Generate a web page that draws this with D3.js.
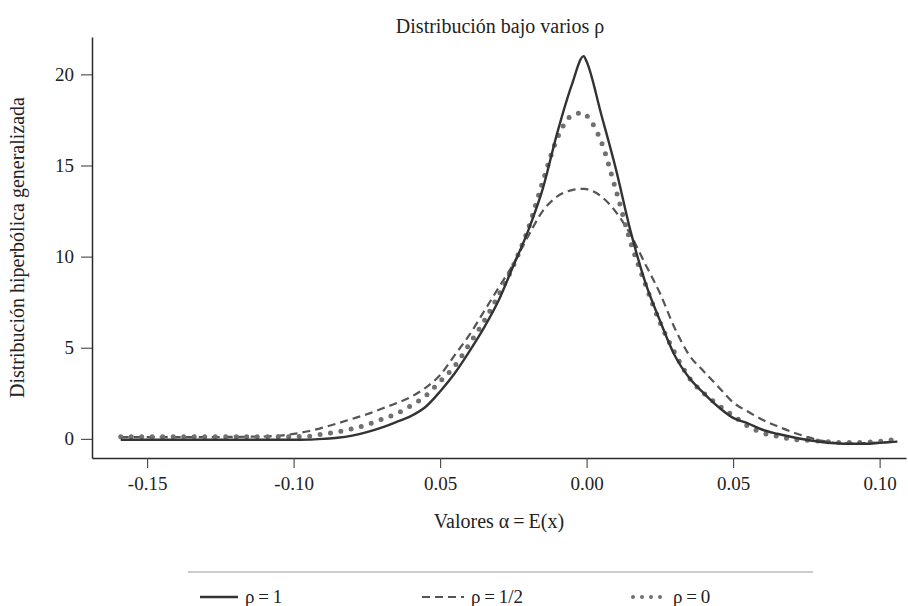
<!DOCTYPE html>
<html>
<head>
<meta charset="utf-8">
<script src="https://cdn.jsdelivr.net/npm/d3@7"></script>
<style>
  html, body { margin: 0; padding: 0; background: #fff; }
  svg text { font-family: "Liberation Serif", "DejaVu Serif", serif; fill: #222; }
</style>
</head>
<body>
<svg id="chart" width="908" height="606"></svg>
<script>
// Evaluation grid (alpha values) shared by the three densities
const alphaGrid = [-0.159, -0.15, -0.14, -0.13, -0.12, -0.11, -0.10, -0.095, -0.09, -0.085,
  -0.08, -0.075, -0.07, -0.065, -0.06, -0.055, -0.05, -0.045, -0.04, -0.035,
  -0.03, -0.025, -0.02, -0.015, -0.01, -0.005, -0.001, 0.0, 0.005, 0.01,
  0.015, 0.02, 0.025, 0.03, 0.035, 0.04, 0.045, 0.05, 0.055, 0.06,
  0.065, 0.07, 0.075, 0.08, 0.085, 0.09, 0.095, 0.10, 0.106];

// Generalized hyperbolic density, rho = 1
const densRho1 = [-0.05, -0.05, -0.05, -0.05, -0.05, -0.05, -0.05, -0.04, 0.0, 0.06,
  0.18, 0.37, 0.62, 0.92, 1.25, 1.75, 2.6, 3.6, 4.8, 6.1,
  7.6, 9.5, 11.4, 13.7, 16.8, 19.45, 21.0, 20.7, 17.8, 14.8,
  11.4, 8.6, 6.5, 4.6, 3.35, 2.5, 1.75, 1.15, 0.85, 0.5,
  0.28, 0.1, -0.05, -0.17, -0.24, -0.27, -0.27, -0.22, -0.15];

// rho = 1/2
const densRhoHalf = [0.1, 0.1, 0.1, 0.1, 0.11, 0.13, 0.27, 0.42, 0.62, 0.85,
  1.1, 1.35, 1.65, 1.95, 2.3, 2.8, 3.5, 4.6, 5.7, 7.0,
  8.3, 9.6, 11.1, 12.5, 13.3, 13.65, 13.72, 13.7, 13.3, 12.45,
  11.2, 9.6, 8.0, 6.1, 4.6, 3.7, 2.85, 2.0, 1.5, 1.05,
  0.7, 0.38, 0.12, -0.1, -0.22, -0.25, -0.23, -0.2, -0.15];

// rho = 0
const densRho0 = [0.12, 0.12, 0.12, 0.12, 0.12, 0.12, 0.12, 0.14, 0.26, 0.38,
  0.55, 0.77, 1.07, 1.37, 1.82, 2.35, 3.15, 4.0, 5.2, 6.45,
  7.9, 9.5, 11.5, 14.1, 16.5, 17.75, 17.9, 17.75, 16.3, 13.65,
  10.8, 8.5, 6.4, 4.75, 3.35, 2.5, 1.85, 1.28, 0.7, 0.33,
  0.15, -0.02, -0.07, -0.13, -0.19, -0.2, -0.19, -0.14, -0.02];

const xTickValues = [-0.15, -0.10, -0.05, 0.00, 0.05, 0.10];
const xTickLabels = ["-0.15", "-0.10", "0.05", "0.00", "0.05", "0.10"];
const yTickValues = [0, 5, 10, 15, 20];

const seriesNames = ["ρ\u2009=\u20091", "ρ\u2009=\u20091/2", "ρ\u2009=\u20090"];

const titleText = "Distribución bajo varios ρ";
const xTitle = "Valores α\u2009=\u2009E(x)";
const yTitle = "Distribución hiperbólica generalizada";

const svg = d3.select("#chart");

const plot = { left: 92, right: 906, top: 37, bottom: 458 };

const x = d3.scaleLinear().domain([-0.1688, 0.109]).range([plot.left, plot.right]);
const y = d3.scaleLinear().domain([-1.05, 22.05]).range([plot.bottom, plot.top]);

// Axes
const xAxis = d3.axisBottom(x)
  .tickValues(xTickValues)
  .tickFormat((d, i) => xTickLabels[i])
  .tickSize(10).tickPadding(9).tickSizeOuter(0);

const yAxis = d3.axisLeft(y)
  .tickValues(yTickValues)
  .tickFormat(d3.format("d"))
  .tickSize(11).tickPadding(7).tickSizeOuter(0);

const gx = svg.append("g").attr("transform", `translate(0,${plot.bottom})`).call(xAxis);
const gy = svg.append("g").attr("transform", `translate(${plot.left},0)`).call(yAxis);

[gx, gy].forEach(g => {
  g.select(".domain").attr("stroke", "#2a2a2a").attr("stroke-width", 1.5);
  g.selectAll(".tick line").attr("stroke", "#444").attr("stroke-width", 1.1);
  g.selectAll(".tick text").attr("font-size", 19).attr("fill", "#222")
    .style("font-family", '"Liberation Serif", serif');
});

// Series
const styles = [
  { stroke: "#333333", width: 2.4, dash: null, cap: "butt" },
  { stroke: "#555555", width: 2.2, dash: "8,5", cap: "butt" },
  { stroke: "#707070", width: 5, dash: "0,10.5", cap: "round" }
];
const seriesData = [densRho1, densRhoHalf, densRho0];

const line = d3.line()
  .x((d, i) => x(alphaGrid[i]))
  .y(d => y(d))
  .curve(d3.curveMonotoneX);

// dashed first, then dotted, then solid on top
[1, 2, 0].forEach(k => {
  const s = styles[k];
  svg.append("path")
    .datum(seriesData[k])
    .attr("d", line)
    .attr("fill", "none")
    .attr("stroke", s.stroke)
    .attr("stroke-width", s.width)
    .attr("stroke-linecap", s.cap)
    .attr("stroke-linejoin", "round")
    .attr("stroke-dasharray", s.dash);
});

// Titles
svg.append("text")
  .attr("x", 500).attr("y", 33)
  .attr("text-anchor", "middle")
  .attr("font-size", 20)
  .text(titleText);

svg.append("text")
  .attr("x", 499).attr("y", 528)
  .attr("text-anchor", "middle")
  .attr("font-size", 20)
  .text(xTitle);

svg.append("text")
  .attr("transform", `translate(24,${(plot.top + plot.bottom) / 2}) rotate(-90)`)
  .attr("text-anchor", "middle")
  .attr("font-size", 20)
  .text(yTitle);

// Legend
svg.append("line")
  .attr("x1", 188).attr("x2", 813)
  .attr("y1", 572).attr("y2", 572)
  .attr("stroke", "#999").attr("stroke-width", 1.2);

const legendX = [200, 422, 631];
const legendKeyLen = [38, 42, 35];
const legendY = 597;
seriesNames.forEach((name, k) => {
  const s = styles[k];
  const g = svg.append("g").attr("transform", `translate(${legendX[k]},${legendY})`);
  g.append("line")
    .attr("x1", k === 2 ? 2 : 0).attr("x2", legendKeyLen[k])
    .attr("y1", 0).attr("y2", 0)
    .attr("stroke", s.stroke)
    .attr("stroke-width", k === 2 ? 4 : s.width)
    .attr("stroke-linecap", s.cap)
    .attr("stroke-dasharray", k === 2 ? "0,9" : (k === 1 ? "8,5" : null));
  g.append("text")
    .attr("x", legendKeyLen[k] + 7).attr("y", 6)
    .attr("font-size", 19)
    .text(name);
});
</script>
</body>
</html>
